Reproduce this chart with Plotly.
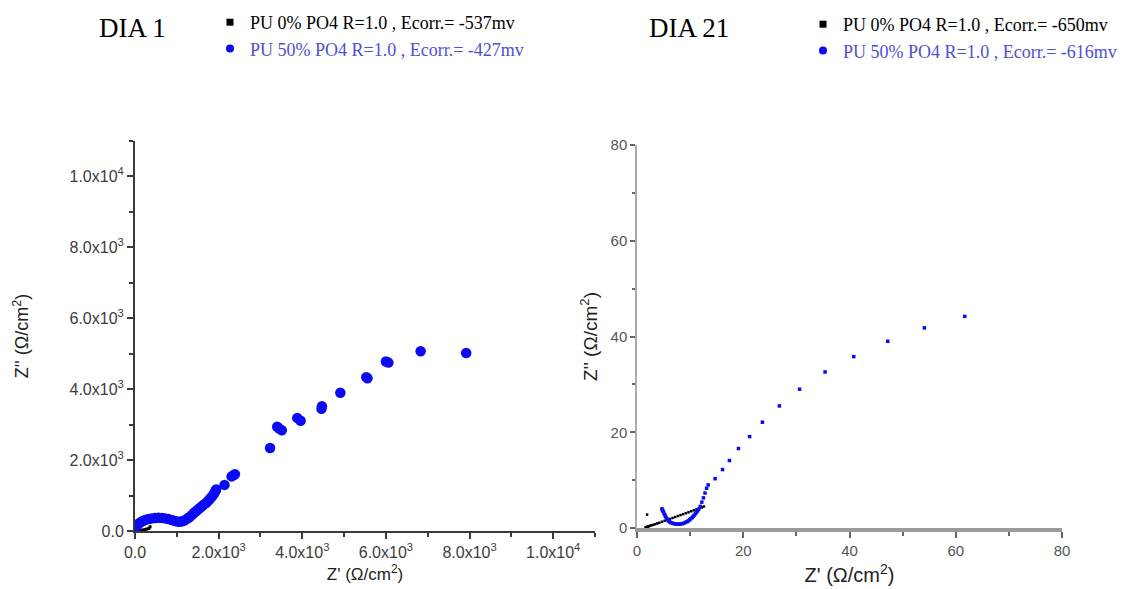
import plotly.graph_objects as go

# ---------------- DATA ----------------
# DIA 1 (left panel)
d1_pu0_x = [120, 160, 200, 240, 280, 330, 360]
d1_pu0_y = [10, 20, 30, 40, 55, 70, 120]
d1_pu50_x = [0, 30, 60, 100, 150, 200, 260, 330, 400, 480, 560, 640, 720, 800, 880, 950,
             1010, 1070, 1130, 1190, 1250, 1300, 1350, 1400, 1450, 1500, 1550, 1600, 1650,
             1700, 1750, 1790, 1830, 1870, 1900, 1920, 1940, 2140, 2310, 2360, 2390, 3230,
             3400, 3440, 3510, 3880, 3960, 4460, 4470, 4910, 5530, 5560, 6000, 6060, 6830, 7920]
d1_pu50_y = [50, 110, 170, 220, 260, 290, 320, 340, 355, 365, 375, 370, 355, 335, 310, 285,
             265, 260, 275, 300, 350, 390, 440, 500, 550, 600, 650, 700, 750,
             790, 850, 900, 960, 1020, 1070, 1120, 1170, 1300, 1540, 1580, 1600, 2340,
             2940, 2900, 2840, 3190, 3110, 3450, 3520, 3900, 4340, 4310, 4780, 4750, 5070, 5020]

# DIA 21 (right panel)
d21_pu0_x = [1.6, 1.8, 2.0, 2.2, 2.4, 2.7, 3.0, 3.4, 3.8, 4.2, 4.7, 5.2, 5.7, 6.2, 6.7, 7.2,
             7.7, 8.2, 8.7, 9.2, 9.7, 10.2, 10.7, 11.2, 11.7, 12.2, 12.6, 1.9]
d21_pu0_y = [0.1, 0.2, 0.3, 0.35, 0.45, 0.55, 0.65, 0.8, 0.95, 1.1, 1.3, 1.5, 1.7, 1.9, 2.1, 2.3,
             2.5, 2.7, 2.9, 3.1, 3.3, 3.5, 3.7, 3.9, 4.1, 4.3, 4.5, 2.8]
d21_pu50_x = [4.7, 4.8, 4.9, 5.05, 5.2, 5.35, 5.5, 5.7, 5.9, 6.15, 6.4, 6.7, 7.0, 7.3, 7.6, 7.9,
              8.2, 8.5, 8.8, 9.1, 9.4, 9.65, 9.9, 10.15, 10.4, 10.6, 10.8, 11.0, 11.2, 11.4, 11.6,
              11.9, 12.2, 12.5, 12.8, 13.1, 13.4, 14.7, 16.1, 17.4, 19.1, 21.2, 23.6, 26.8, 30.6,
              35.4, 40.8, 47.2, 54.1, 61.7]
d21_pu50_y = [4.0, 3.75, 3.5, 3.15, 2.8, 2.45, 2.1, 1.8, 1.5, 1.3, 1.1, 1.0, 0.9, 0.85, 0.8, 0.8,
              0.85, 0.9, 1.0, 1.15, 1.3, 1.5, 1.7, 1.95, 2.2, 2.45, 2.7, 3.0, 3.3, 3.6, 3.9,
              4.5, 5.4, 6.3, 7.3, 8.3, 9.0, 10.3, 12.2, 14.1, 16.6, 19.1, 22.1, 25.5, 29.0,
              32.6, 35.8, 39.0, 41.8, 44.2]

# Labels
panel_titles = ["DIA 1", "DIA 21"]
d1_names = ["PU 0% PO4 R=1.0 , Ecorr.= -537mv", "PU 50% PO4 R=1.0 , Ecorr.= -427mv"]
d21_names = ["PU 0% PO4 R=1.0 , Ecorr.= -650mv", "PU 50% PO4 R=1.0 , Ecorr.= -616mv"]
left_tickvals = [0, 2000, 4000, 6000, 8000, 10000]
left_ticktext = ["0.0", "2.0x10<sup>3</sup>", "4.0x10<sup>3</sup>", "6.0x10<sup>3</sup>",
                 "8.0x10<sup>3</sup>", "1.0x10<sup>4</sup>"]
right_tickvals = [0, 20, 40, 60, 80]
x_title = "Z' (\u03a9/cm<sup>2</sup>)"
y_title = "Z'' (\u03a9/cm<sup>2</sup>)"

# ---------------- FIGURE ----------------
W, H = 1126, 589
BLUE = "#0a0af5"
BLUE_TXT = "#4f4fd6"
fig = go.Figure()

fig.add_trace(go.Scatter(x=d1_pu0_x, y=d1_pu0_y, mode="markers", xaxis="x", yaxis="y",
                         marker=dict(symbol="square", size=3, color="black"), showlegend=False))
fig.add_trace(go.Scatter(x=d1_pu50_x, y=d1_pu50_y, mode="markers", xaxis="x", yaxis="y",
                         marker=dict(symbol="circle", size=10.5, color=BLUE), showlegend=False))
fig.add_trace(go.Scatter(x=d21_pu0_x, y=d21_pu0_y, mode="markers", xaxis="x2", yaxis="y2",
                         marker=dict(symbol="square", size=2.5, color="black"), showlegend=False))
fig.add_trace(go.Scatter(x=d21_pu50_x, y=d21_pu50_y, mode="markers", xaxis="x2", yaxis="y2",
                         marker=dict(symbol="square", size=3.5, color=BLUE), showlegend=False))

def legend_entry(name, symbol, size, color, legend, group, txtcolor):
    fig.add_trace(go.Scatter(x=[None], y=[None], mode="markers", xaxis="x", yaxis="y",
                             name="<span style='color:%s'>%s</span>" % (txtcolor, name),
                             legend=legend, legendgroup=group,
                             marker=dict(symbol=symbol, size=size, color=color)))

legend_entry(d1_names[0], "square", 7, "black", "legend", "a1", "black")
legend_entry(d1_names[1], "circle", 8, BLUE, "legend", "a2", BLUE_TXT)
legend_entry(d21_names[0], "square", 7, "black", "legend2", "b1", "black")
legend_entry(d21_names[1], "circle", 8, BLUE, "legend2", "b2", BLUE_TXT)

leg_common = dict(font=dict(family="Liberation Serif", size=18, color="black"),
                  bgcolor="rgba(0,0,0,0)", traceorder="grouped", tracegroupgap=0,
                  xanchor="left", yanchor="top", itemsizing="trace")

def px_x(p):
    return p / W

def px_y(p):
    return 1 - p / H

fig.update_layout(
    width=W, height=H, margin=dict(l=0, r=0, t=0, b=0, autoexpand=False),
    paper_bgcolor="white", plot_bgcolor="white",
    legend=dict(x=px_x(210), y=px_y(4), **leg_common),
    legend2=dict(x=px_x(803), y=px_y(6), **leg_common),
    xaxis=dict(domain=[px_x(135), px_x(595)], range=[0, 11000], anchor="y", automargin=False,
               showgrid=False, zeroline=False, showline=True, linecolor="#3a3a3a", linewidth=2,
               ticks="outside", ticklen=6, tickwidth=2, tickcolor="#3a3a3a",
               tickmode="array", tickvals=left_tickvals, ticktext=left_ticktext,
               tickfont=dict(family="Liberation Sans", size=16, color="#3c3c3c"),
               minor=dict(tickmode="linear", tick0=0, dtick=1000, ticks="outside", ticklen=4,
                          tickwidth=2, tickcolor="#3a3a3a"),
               title=dict(text=x_title, font=dict(family="Liberation Sans", size=17, color="#222"),
                          standoff=8)),
    yaxis=dict(domain=[px_y(531), px_y(141)], range=[0, 11000], anchor="x", automargin=False,
               showgrid=False, zeroline=False, showline=True, linecolor="#3a3a3a", linewidth=2,
               ticks="outside", ticklen=6, tickwidth=2, tickcolor="#3a3a3a",
               tickmode="array", tickvals=left_tickvals, ticktext=left_ticktext,
               tickfont=dict(family="Liberation Sans", size=16, color="#3c3c3c"),
               minor=dict(tickmode="linear", tick0=0, dtick=1000, ticks="outside", ticklen=4,
                          tickwidth=2, tickcolor="#3a3a3a"),
               title=dict(text=y_title, font=dict(family="Liberation Sans", size=18, color="#222"),
                          standoff=36)),
    xaxis2=dict(domain=[px_x(637), px_x(1062)], range=[0, 80], anchor="y2", automargin=False,
                showgrid=False, zeroline=False, showline=True, linecolor="#9a9a9a", linewidth=4,
                ticks="outside", ticklen=6, tickwidth=2, tickcolor="#666",
                tickmode="array", tickvals=right_tickvals,
                tickfont=dict(family="Liberation Sans", size=15, color="#555"),
                minor=dict(tickmode="linear", tick0=0, dtick=10, ticks="outside", ticklen=4,
                           tickwidth=2, tickcolor="#666"),
                title=dict(text=x_title, font=dict(family="Liberation Sans", size=20, color="#222"),
                           standoff=11)),
    yaxis2=dict(domain=[px_y(528), px_y(145)], range=[0, 80], anchor="x2", automargin=False,
                showgrid=False, zeroline=False, showline=True, linecolor="#aaaaaa", linewidth=1.5,
                ticks="outside", ticklen=5, tickwidth=2, tickcolor="#666",
                tickmode="array", tickvals=right_tickvals,
                tickfont=dict(family="Liberation Sans", size=15, color="#555"),
                minor=dict(tickmode="linear", tick0=0, dtick=10, ticks="outside", ticklen=3,
                           tickwidth=1.5, tickcolor="#666"),
                title=dict(text=y_title, font=dict(family="Liberation Sans", size=19, color="#222"),
                           standoff=8)),
)

for txt, xp in zip(panel_titles, [97, 647]):
    fig.add_annotation(text=txt, xref="paper", yref="paper", x=px_x(xp), y=px_y(28),
                       xanchor="left", yanchor="middle", showarrow=False,
                       font=dict(family="Liberation Serif", size=27, color="black"))

fig.write_html("out.html")
